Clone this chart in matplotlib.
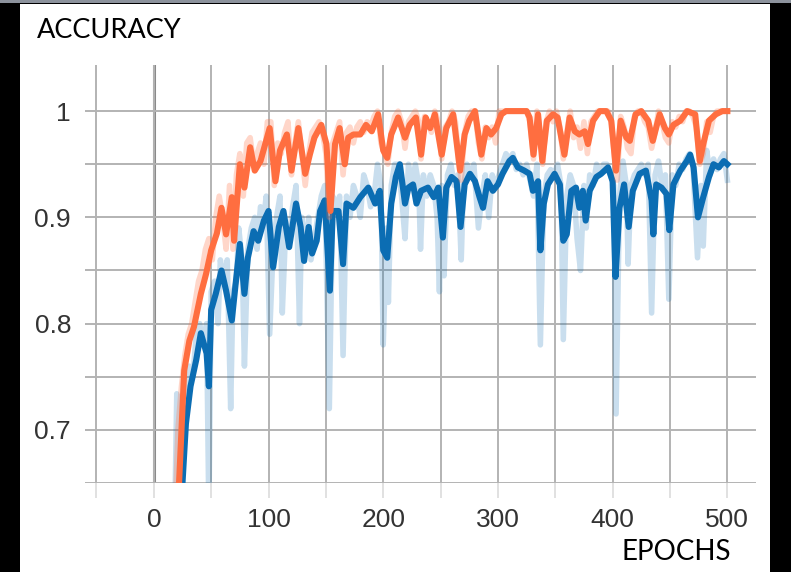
import matplotlib
matplotlib.use("Agg")
import matplotlib.pyplot as plt
from matplotlib.patches import Rectangle

# ---- data (epoch, accuracy) ----
orange_smooth = [
    (22, 0.65), (26.5, 0.756), (31, 0.784), (35, 0.797), (41, 0.828), (45.6, 0.847),
    (50, 0.869), (55, 0.885), (59, 0.909), (63, 0.884), (68, 0.919), (70, 0.878),
    (75, 0.95), (79, 0.928), (84, 0.966), (88, 0.944), (93, 0.953), (101, 0.984),
    (106, 0.934), (110, 0.963), (116, 0.978), (120, 0.944), (126, 0.984), (132, 0.941),
    (136, 0.959), (140, 0.975), (146, 0.987), (150.5, 0.969), (154, 0.906), (158, 0.969),
    (162, 0.984), (166.5, 0.95), (169.5, 0.975), (174, 0.978), (180, 0.978), (185, 0.987),
    (190, 0.981), (195.6, 0.997), (200, 0.963), (203.5, 0.956), (207, 0.978), (213, 0.994),
    (219, 0.975), (223, 0.987), (228.5, 0.994), (233, 0.959), (237, 0.994), (241, 0.984),
    (245, 0.997), (251, 0.959), (255, 0.984), (261, 0.997), (267, 0.944), (271, 0.978),
    (275, 0.991), (280, 1.0), (285.5, 0.959), (290, 0.984), (294, 0.978), (298.5, 0.984),
    (303, 0.997), (307, 1.0), (325, 1.0), (327.6, 0.994), (331, 0.959), (335, 0.997),
    (338.7, 0.953), (342.7, 0.991), (348, 0.997), (352, 0.994), (358, 0.959), (362.5, 0.994),
    (367, 0.981), (371, 0.978), (375.6, 0.981), (378.5, 0.969), (383, 0.991), (388.7, 1.0),
    (394.5, 1.0), (398.8, 0.991), (403, 0.944), (407, 0.991), (412, 0.975), (415, 0.972),
    (420, 0.997), (425, 1.0), (431, 0.991), (435, 0.972), (441, 0.997), (445.6, 0.984),
    (449, 0.978), (453, 0.987), (459, 0.991), (465, 1.0), (472, 0.997), (476, 0.953),
    (479, 0.969), (484, 0.991), (490, 0.997), (495.6, 1.0), (500, 1.0),
]

orange_raw = [
    (18, 0.6), (21, 0.70), (24, 0.74), (27, 0.77), (30, 0.79), (33, 0.80), (36, 0.82),
    (39, 0.84), (42, 0.85), (45, 0.87), (48, 0.88), (51, 0.86), (54, 0.90), (57, 0.92),
    (60, 0.90), (63, 0.87), (66, 0.93), (69, 0.87), (72, 0.94), (75, 0.96), (78, 0.92),
    (81, 0.97), (84, 0.975), (87, 0.95), (90, 0.96), (93, 0.97), (96, 0.95), (99, 0.99),
    (102, 0.99), (105, 0.93), (108, 0.97), (111, 0.96), (114, 0.98), (117, 0.99), (120, 0.94),
    (123, 0.97), (126, 0.99), (129, 0.96), (132, 0.93), (135, 0.96), (138, 0.98), (141, 0.985),
    (144, 0.99), (147, 0.98), (150, 0.96), (153, 0.90), (156, 0.97), (159, 0.98), (162, 0.99),
    (165, 0.94), (168, 0.98), (171, 0.985), (174, 0.97), (177, 0.985), (180, 0.99), (183, 0.98),
    (186, 0.99), (189, 0.985), (192, 0.995), (195, 1.0), (198, 0.97), (201, 0.96), (204, 0.95),
    (207, 0.98), (210, 0.995), (213, 1.0), (216, 0.99), (219, 0.965), (222, 0.99), (225, 0.995),
    (228, 1.0), (231, 0.99), (233, 0.955), (236, 0.995), (239, 0.99), (242, 0.98), (245, 1.0),
    (248, 0.99), (251, 0.955), (254, 0.985), (257, 0.99), (260, 1.0), (263, 0.99), (266, 0.95),
    (268, 0.935), (271, 0.98), (274, 0.995), (277, 1.0), (280, 1.0), (283, 0.97), (286, 0.955),
    (289, 0.985), (292, 0.975), (295, 0.985), (298, 0.97), (301, 1.0), (325, 1.0), (328, 0.99),
    (331, 0.955), (334, 1.0), (337, 0.98), (339, 0.95), (342, 0.99), (345, 1.0), (348, 0.99),
    (351, 1.0), (354, 0.985), (357, 0.955), (360, 0.98), (363, 1.0), (366, 0.975), (369, 0.985),
    (372, 0.965), (375, 0.99), (378, 0.96), (381, 0.99), (384, 0.995), (387, 1.0), (396, 1.0),
    (399, 0.99), (402, 0.95), (404, 0.935), (407, 0.995), (410, 0.985), (413, 0.965), (416, 0.96),
    (419, 0.995), (422, 1.0), (425, 1.0), (428, 0.99), (431, 0.985), (434, 0.965), (437, 0.98),
    (440, 1.0), (443, 0.99), (446, 0.975), (449, 0.97), (452, 0.99), (455, 0.985), (458, 0.995),
    (461, 0.99), (464, 1.0), (467, 1.0), (470, 0.995), (473, 0.985), (476, 0.95), (479, 0.96),
    (482, 0.99), (485, 0.98), (488, 0.995), (491, 1.0), (500, 1.0),
]

blue_smooth = [
    (25, 0.65), (28, 0.706), (32, 0.741), (37, 0.766), (41, 0.791), (46, 0.772), (48, 0.741),
    (50, 0.813), (54, 0.828), (59, 0.85), (63, 0.831), (68, 0.803), (71, 0.834), (75, 0.875),
    (79, 0.828), (82, 0.862), (87, 0.887), (91, 0.878), (96, 0.897), (100, 0.906), (104, 0.853),
    (109, 0.891), (113, 0.906), (118, 0.872), (124, 0.913), (128, 0.891), (131, 0.859),
    (135, 0.891), (138, 0.866), (142, 0.878), (145, 0.906), (149, 0.916), (153.5, 0.831),
    (156, 0.906), (161, 0.906), (165, 0.856), (168, 0.913), (174, 0.909), (180, 0.919),
    (187, 0.928), (193, 0.913), (197, 0.925), (200, 0.869), (203.5, 0.862), (207, 0.913),
    (211, 0.938), (214.5, 0.95), (219, 0.913), (222, 0.928), (226, 0.931), (229, 0.913),
    (233, 0.925), (239, 0.928), (244, 0.919), (248, 0.928), (252, 0.881), (255, 0.928),
    (259.6, 0.938), (264, 0.934), (267.4, 0.891), (271, 0.931), (275.6, 0.941), (280, 0.934),
    (284, 0.919), (287, 0.909), (291, 0.934), (295.6, 0.925), (300, 0.931), (304, 0.941),
    (310, 0.953), (313, 0.956), (317.4, 0.947), (323, 0.944), (327.6, 0.941), (330.5, 0.925),
    (335, 0.934), (337, 0.869), (340, 0.913), (343.6, 0.931), (349.4, 0.941), (354, 0.931),
    (357, 0.878), (360, 0.884), (364, 0.925), (368, 0.928), (371, 0.909), (374, 0.925),
    (376.5, 0.897), (380, 0.925), (385.8, 0.938), (390, 0.941), (396, 0.947), (400, 0.934),
    (402.5, 0.844), (406, 0.909), (410, 0.931), (414, 0.891), (417.6, 0.925), (423.5, 0.941),
    (429, 0.944), (434, 0.916), (435.5, 0.884), (438, 0.931), (442.6, 0.928), (447, 0.922),
    (449.4, 0.888), (453, 0.931), (459, 0.944), (464.7, 0.953), (467.6, 0.959), (470.6, 0.947),
    (474.4, 0.9), (479, 0.919), (484, 0.938), (488, 0.95), (492.6, 0.947), (497, 0.953),
    (500, 0.95),
]

blue_raw = [
    (18, 0.6), (20, 0.734), (22, 0.62), (26, 0.70), (28, 0.72), (31, 0.76), (34, 0.75),
    (37, 0.79), (40, 0.80), (43, 0.78), (46, 0.80), (48, 0.62), (50, 0.83), (53, 0.84),
    (56, 0.80), (58, 0.86), (61, 0.84), (64, 0.86), (67, 0.72), (69, 0.83), (72, 0.84),
    (74, 0.89), (77, 0.86), (79, 0.76), (82, 0.87), (85, 0.89), (88, 0.90), (90, 0.87),
    (93, 0.91), (96, 0.90), (98, 0.92), (101, 0.79), (104, 0.87), (107, 0.90), (110, 0.92),
    (112, 0.81), (115, 0.89), (118, 0.88), (121, 0.91), (124, 0.93), (127, 0.80), (129, 0.90),
    (132, 0.87), (135, 0.90), (137, 0.86), (140, 0.88), (143, 0.90), (146, 0.92), (149, 0.93),
    (153, 0.72), (156, 0.92), (159, 0.91), (162, 0.92), (165, 0.77), (168, 0.92), (171, 0.90),
    (174, 0.93), (177, 0.92), (180, 0.90), (183, 0.94), (186, 0.93), (189, 0.91), (192, 0.92),
    (195, 0.95), (198, 0.93), (200, 0.78), (203, 0.89), (204.5, 0.82), (207, 0.93), (210, 0.95),
    (213, 0.95), (216, 0.92), (219, 0.88), (222, 0.95), (225, 0.93), (228, 0.95), (231, 0.93),
    (232.5, 0.87), (235, 0.94), (238, 0.92), (241, 0.94), (244, 0.93), (247, 0.90), (249, 0.83),
    (251, 0.93), (253, 0.845), (256, 0.94), (259, 0.95), (262, 0.93), (265, 0.94), (268, 0.86),
    (270, 0.93), (273, 0.95), (276, 0.94), (279, 0.95), (281, 0.92), (283, 0.89), (286, 0.92),
    (289, 0.94), (292, 0.90), (295, 0.94), (298, 0.93), (301, 0.94), (304, 0.95), (307, 0.96),
    (310, 0.955), (313, 0.96), (316, 0.945), (319, 0.95), (322, 0.94), (325, 0.95), (328, 0.935),
    (331, 0.92), (334, 0.95), (337, 0.78), (340, 0.92), (343, 0.94), (346, 0.945), (349, 0.94),
    (352, 0.95), (355, 0.93), (357, 0.785), (360, 0.92), (363, 0.94), (366, 0.93), (369, 0.88),
    (372, 0.85), (375, 0.93), (377, 0.89), (380, 0.94), (383, 0.93), (386, 0.95), (389, 0.94),
    (392, 0.95), (395, 0.95), (398, 0.94), (401, 0.93), (403, 0.715), (406, 0.92), (409, 0.953),
    (412, 0.93), (413.5, 0.856), (416, 0.93), (419, 0.94), (422, 0.945), (425, 0.95), (428, 0.94),
    (431, 0.95), (434, 0.81), (437, 0.94), (440, 0.953), (443, 0.93), (446, 0.94), (449, 0.823),
    (452, 0.94), (455, 0.93), (458, 0.95), (461, 0.945), (464, 0.955), (467, 0.96), (470, 0.95),
    (474, 0.862), (477, 0.93), (479, 0.873), (482, 0.963), (485, 0.94), (488, 0.955),
    (491, 0.945), (494, 0.955), (497, 0.96), (500, 0.935),
]

x_labels = [0, 100, 200, 300, 400, 500]
y_labels = ["0.7", "0.8", "0.9", "1"]

ORANGE = "#ff6e40"
BLUE = "#0b6db3"


def split(points):
    return [p[0] for p in points], [p[1] for p in points]


fig = plt.figure(figsize=(7.91, 5.72), dpi=100)
fig.patch.set_facecolor("black")
# white slide area and the thin grey strip on top
fig.add_artist(Rectangle((20 / 791, 0), 750 / 791, 568 / 572, transform=fig.transFigure,
                         facecolor="white", edgecolor="none", zorder=-5))
fig.add_artist(Rectangle((0, 569 / 572), 1, 3 / 572, transform=fig.transFigure,
                         facecolor="#8c929c", edgecolor="none", zorder=-5))

ax = fig.add_axes([85 / 791, 89 / 572, 671 / 791, 418 / 572])
ax.set_facecolor("none")
ax.set_xlim(-60, 525)
ax.set_ylim(0.65, 1.0434)

ax.plot(*split(blue_raw), color=BLUE, alpha=0.22, lw=4.0)
ax.plot(*split(blue_smooth), color=BLUE, lw=4.4)
ax.plot(*split(orange_raw), color=ORANGE, alpha=0.28, lw=4.0)
ax.plot(*split(orange_smooth), color=ORANGE, lw=4.4)

ax.axvline(0, color="#8a8a8a", lw=2.2, zorder=0.5)

ax.set_xticks(x_labels)
ax.set_xticks([-50, 50, 150, 250, 350, 450], minor=True)
ax.set_yticks([0.7, 0.8, 0.9, 1.0])
ax.set_yticklabels(y_labels)
ax.set_yticks([0.65, 0.75, 0.85, 0.95], minor=True)

ax.grid(True, which="both", color="#b3b3b3", lw=1.4)
ax.set_axisbelow(True)
for s in ax.spines.values():
    s.set_visible(False)

ax.tick_params(axis="x", which="both", direction="out", length=11, width=1.2,
               color="#dcdcdc", pad=7, labelsize=19, labelcolor="#333333")
ax.tick_params(axis="y", which="both", length=0, pad=10, labelsize=19,
               labelcolor="#333333")
for lab in ax.get_xticklabels() + ax.get_yticklabels():
    lab.set_fontfamily("Liberation Sans")

fig.text(37 / 791, 1 - 30 / 572, "ACCURACY", fontsize=19.5, family="Lato",
         ha="left", va="center", color="black")
fig.text(676 / 791, 1 - 552 / 572, "EPOCHS", fontsize=20, family="Lato",
         ha="center", va="center", color="black")

fig.savefig("out.png", dpi=100, facecolor=fig.get_facecolor())
